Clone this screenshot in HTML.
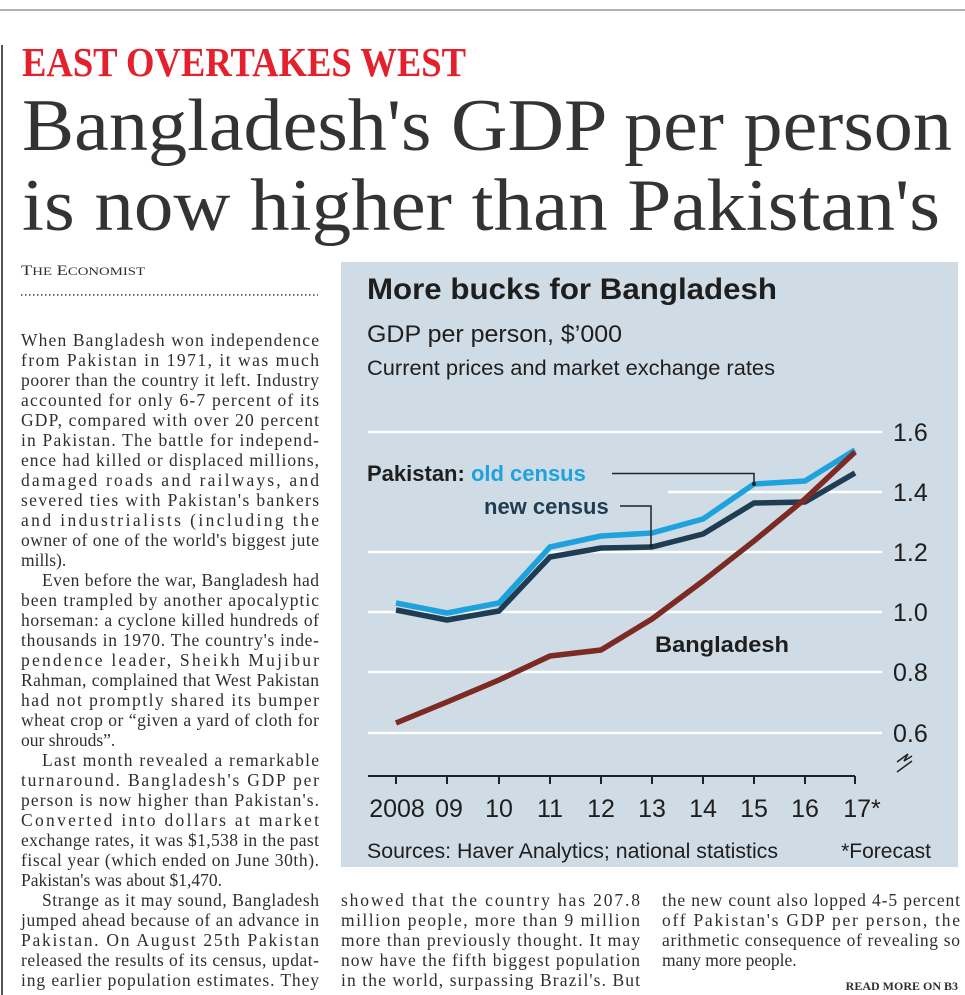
<!DOCTYPE html>
<html><head><meta charset="utf-8"><style>
html,body{margin:0;padding:0;background:#fff;}
svg{display:block;}
.b{font-family:"Liberation Serif",serif;font-size:17.5px;fill:#2e2e2e;}
.c{font-family:"Liberation Sans",sans-serif;fill:#1e1e1e;}
</style></head><body>
<svg width="965" height="995" viewBox="0 0 965 995" xmlns="http://www.w3.org/2000/svg">
<rect width="965" height="995" fill="#fff"/>
<line x1="0" y1="10" x2="965" y2="10" stroke="#999" stroke-width="1.5"/>
<line x1="2" y1="45" x2="2" y2="995" stroke="#555" stroke-width="2"/>
<text x="22" y="76" font-family="Liberation Serif,serif" font-weight="bold" font-size="41" fill="#e3202b" textLength="444" lengthAdjust="spacingAndGlyphs">EAST OVERTAKES WEST</text>
<text x="22" y="150" font-family="Liberation Serif,serif" font-size="74" fill="#333" textLength="930" lengthAdjust="spacingAndGlyphs">Bangladesh's GDP per person</text>
<text x="22" y="230" font-family="Liberation Serif,serif" font-size="74" fill="#333" textLength="918" lengthAdjust="spacingAndGlyphs">is now higher than Pakistan's</text>
<text x="21" y="275" font-family="Liberation Serif,serif" font-size="15" fill="#2e2e2e" textLength="124" lengthAdjust="spacingAndGlyphs">T<tspan font-size="12">HE</tspan> E<tspan font-size="12">CONOMIST</tspan></text>
<line x1="21" y1="295" x2="318" y2="295" stroke="#444" stroke-width="1.5" stroke-dasharray="1.5,2.5"/>

<g class="b">
<text x="21" y="346" textLength="298" lengthAdjust="spacing">When Bangladesh won independence</text>
<text x="21" y="366" textLength="298" lengthAdjust="spacing">from Pakistan in 1971, it was much</text>
<text x="21" y="386" textLength="298" lengthAdjust="spacing">poorer than the country it left. Industry</text>
<text x="21" y="406" textLength="298" lengthAdjust="spacing">accounted for only 6-7 percent of its</text>
<text x="21" y="426" textLength="298" lengthAdjust="spacing">GDP, compared with over 20 percent</text>
<text x="21" y="446" textLength="298" lengthAdjust="spacing">in Pakistan. The battle for independ-</text>
<text x="21" y="466" textLength="298" lengthAdjust="spacing">ence had killed or displaced millions,</text>
<text x="21" y="486" textLength="298" lengthAdjust="spacing">damaged roads and railways, and</text>
<text x="21" y="506" textLength="298" lengthAdjust="spacing">severed ties with Pakistan's bankers</text>
<text x="21" y="526" textLength="298" lengthAdjust="spacing">and industrialists (including the</text>
<text x="21" y="546" textLength="298" lengthAdjust="spacing">owner of one of the world's biggest jute</text>
<text x="21" y="566">mills).</text>
<text x="42" y="586" textLength="277" lengthAdjust="spacing">Even before the war, Bangladesh had</text>
<text x="21" y="606" textLength="298" lengthAdjust="spacing">been trampled by another apocalyptic</text>
<text x="21" y="626" textLength="298" lengthAdjust="spacing">horseman: a cyclone killed hundreds of</text>
<text x="21" y="646" textLength="298" lengthAdjust="spacing">thousands in 1970. The country's inde-</text>
<text x="21" y="666" textLength="298" lengthAdjust="spacing">pendence leader, Sheikh Mujibur</text>
<text x="21" y="686" textLength="298" lengthAdjust="spacing">Rahman, complained that West Pakistan</text>
<text x="21" y="706" textLength="298" lengthAdjust="spacing">had not promptly shared its bumper</text>
<text x="21" y="726" textLength="298" lengthAdjust="spacing">wheat crop or “given a yard of cloth for</text>
<text x="21" y="746">our shrouds”.</text>
<text x="42" y="766" textLength="277" lengthAdjust="spacing">Last month revealed a remarkable</text>
<text x="21" y="786" textLength="298" lengthAdjust="spacing">turnaround. Bangladesh's GDP per</text>
<text x="21" y="806" textLength="298" lengthAdjust="spacing">person is now higher than Pakistan's.</text>
<text x="21" y="826" textLength="298" lengthAdjust="spacing">Converted into dollars at market</text>
<text x="21" y="846" textLength="298" lengthAdjust="spacing">exchange rates, it was $1,538 in the past</text>
<text x="21" y="866" textLength="298" lengthAdjust="spacing">fiscal year (which ended on June 30th).</text>
<text x="21" y="886">Pakistan's was about $1,470.</text>
<text x="42" y="906" textLength="277" lengthAdjust="spacing">Strange as it may sound, Bangladesh</text>
<text x="21" y="926" textLength="298" lengthAdjust="spacing">jumped ahead because of an advance in</text>
<text x="21" y="946" textLength="298" lengthAdjust="spacing">Pakistan. On August 25th Pakistan</text>
<text x="21" y="966" textLength="298" lengthAdjust="spacing">released the results of its census, updat-</text>
<text x="21" y="986" textLength="298" lengthAdjust="spacing">ing earlier population estimates. They</text>

<text x="341" y="906" textLength="299" lengthAdjust="spacing">showed that the country has 207.8</text>
<text x="341" y="926" textLength="299" lengthAdjust="spacing">million people, more than 9 million</text>
<text x="341" y="946" textLength="299" lengthAdjust="spacing">more than previously thought. It may</text>
<text x="341" y="966" textLength="299" lengthAdjust="spacing">now have the fifth biggest population</text>
<text x="341" y="986" textLength="299" lengthAdjust="spacing">in the world, surpassing Brazil's. But</text>

<text x="662" y="906" textLength="298" lengthAdjust="spacing">the new count also lopped 4-5 percent</text>
<text x="662" y="926" textLength="298" lengthAdjust="spacing">off Pakistan's GDP per person, the</text>
<text x="662" y="946" textLength="298" lengthAdjust="spacing">arithmetic consequence of revealing so</text>
<text x="662" y="966">many more people.</text>
</g>
<text x="958" y="990" text-anchor="end" font-family="Liberation Serif,serif" font-weight="bold" font-size="12" fill="#2e2e2e">READ MORE ON B3</text>

<rect x="341" y="262" width="617" height="605" fill="#cfdce5"/>
<g stroke="#fff" stroke-width="2.5">
<line x1="368" y1="432" x2="882" y2="432"/>
<line x1="668" y1="492" x2="882" y2="492"/>
<line x1="368" y1="552" x2="882" y2="552"/>
<line x1="368" y1="612" x2="882" y2="612"/>
<line x1="368" y1="672" x2="882" y2="672"/>
<line x1="368" y1="733" x2="882" y2="733"/>
</g>
<g class="c" font-size="25">
<text x="893" y="441">1.6</text>
<text x="893" y="501">1.4</text>
<text x="893" y="561">1.2</text>
<text x="893" y="621">1.0</text>
<text x="893" y="681">0.8</text>
<text x="893" y="742">0.6</text>
</g>
<path d="M897 762 L908 754 L904 761 L912 756 M897 772 L912 761" stroke="#222" stroke-width="1.5" fill="none"/>
<path d="M368 776 H855 M396 776 v8 M447 776 v8 M499 776 v8 M550 776 v8 M601 776 v8 M652 776 v8 M703 776 v8 M754 776 v8 M805 776 v8 M855 776 v8" stroke="#222" stroke-width="2" fill="none"/>
<g class="c" font-size="25" text-anchor="middle">
<text x="397" y="817">2008</text>
<text x="449" y="817">09</text>
<text x="499" y="817">10</text>
<text x="550" y="817">11</text>
<text x="601" y="817">12</text>
<text x="652" y="817">13</text>
<text x="703" y="817">14</text>
<text x="754" y="817">15</text>
<text x="805" y="817">16</text>
<text x="862" y="817">17*</text>
</g>
<polyline fill="none" stroke="#1e3d52" stroke-width="5.5" stroke-linejoin="round" points="396,610 447,620 499,611 550,557 601,548 652,547 703,534 754,503 805,502 855,473"/>
<polyline fill="none" stroke="#1ea2dd" stroke-width="5.5" stroke-linejoin="round" points="396,603 447,613 499,603 550,547 601,536 652,533 703,519 754,484 805,481 855,450"/>
<polyline fill="none" stroke="#7d2a24" stroke-width="5.5" stroke-linejoin="round" points="396,723 447,702 499,680 550,656 601,650 652,619 703,581 754,541 805,499 855,452"/>
<path d="M612 473.5 H754 V484" stroke="#222" stroke-width="1.5" fill="none"/>
<path d="M620 506 H651 V546" stroke="#222" stroke-width="1.5" fill="none"/>
<circle cx="754" cy="484" r="2" fill="#222"/><circle cx="651" cy="546" r="2" fill="#222"/>
<g class="c" font-weight="bold" font-size="22">
<text x="367" y="481">Pakistan: <tspan fill="#1ea2dd">old census</tspan></text>
<text x="484" y="514" fill="#1e3d52">new census</text>
<text x="655" y="652" textLength="134" lengthAdjust="spacingAndGlyphs">Bangladesh</text>
</g>
<text class="c" x="367" y="299" font-size="30" font-weight="bold" textLength="410" lengthAdjust="spacingAndGlyphs">More bucks for Bangladesh</text>
<text class="c" x="367" y="342" font-size="24" textLength="255" lengthAdjust="spacingAndGlyphs">GDP per person, $’000</text>
<text class="c" x="367" y="375" font-size="21" textLength="408" lengthAdjust="spacingAndGlyphs">Current prices and market exchange rates</text>
<text class="c" x="367" y="858" font-size="21" textLength="411" lengthAdjust="spacingAndGlyphs">Sources: Haver Analytics; national statistics</text>
<text class="c" x="931" y="858" font-size="21" text-anchor="end">*Forecast</text>
</svg>
</body></html>
